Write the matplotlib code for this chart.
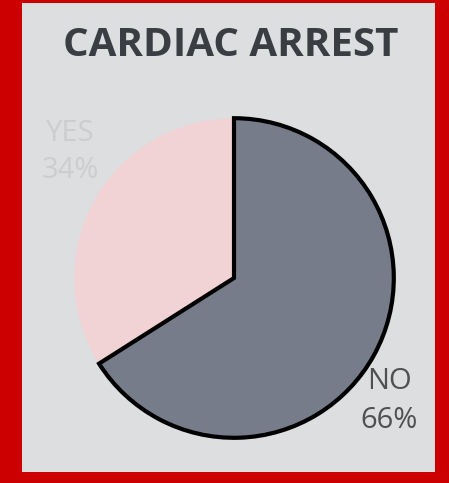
import matplotlib.pyplot as plt
from matplotlib.patches import Rectangle

# Data
labels = ["NO", "YES"]
shares = [66, 34]
slice_colors = ["#767c89", "#f2d3d5"]
label_colors = ["#505050", "#cdcdcd"]

W, H = 449, 483
fig = plt.figure(figsize=(W / 100, H / 100), dpi=100)
fig.patch.set_facecolor("#cc0000")

# inner panel inside the red frame
fig.patches.append(Rectangle((22 / W, 11 / H), 413 / W, 469 / H,
                             transform=fig.transFigure, facecolor="#dcdedf",
                             edgecolor="none", zorder=-5))

fig.text(231 / W, 1 - 45 / H, "CARDIAC ARREST", ha="center", va="center",
         fontsize=29, fontweight="bold", color="#3a3d42", family="Open Sans")

# pie axes: centre (234, 278), radius ~163 px
r = 163
ax = fig.add_axes([(234 - r) / W, (H - 278 - r) / H, 2 * r / W, 2 * r / H])
wedges, _ = ax.pie(shares, colors=slice_colors, startangle=90, counterclock=False,
                   radius=1.0)
wedges[0].set_edgecolor("black")
wedges[0].set_linewidth(3)
wedges[0].set_zorder(3)
wedges[1].set_edgecolor("none")
ax.set_xlim(-1.02, 1.02)
ax.set_ylim(-1.02, 1.02)
ax.set_facecolor("none")
ax.axis("off")

# slice labels
fig.text(389 / W, 1 - 401 / H, f"{labels[0]}\n{shares[0]}%", ha="center", va="center",
         fontsize=21, color=label_colors[0], family="Open Sans", linespacing=1.45,
         zorder=5)
fig.text(70 / W, 1 - 152 / H, f"{labels[1]}\n{shares[1]}%", ha="center", va="center",
         fontsize=21, color=label_colors[1], family="Open Sans", linespacing=1.4,
         zorder=5)

fig.savefig("out.png", dpi=100, facecolor=fig.get_facecolor())
